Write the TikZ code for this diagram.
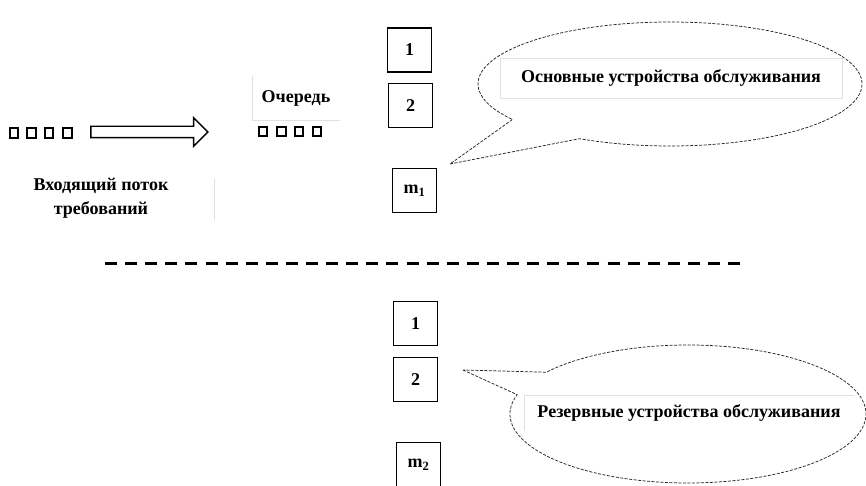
\documentclass[tikz,border=0pt]{standalone}
\usepackage{fontspec}
\setmainfont{Liberation Serif}
\usetikzlibrary{positioning,shapes.arrows,shapes.callouts}

\begin{document}
\begin{tikzpicture}[
  x=1pt,y=-1pt,
  font=\fontsize{18}{24}\selectfont\bfseries,
  server/.style={draw,line width=1.3pt,minimum size=44pt,inner sep=0pt},
  req/.style={draw,line width=1.8pt,minimum width=8.5pt,minimum height=9.5pt,inner sep=0pt},
  bubble/.style={ellipse callout,draw=black!85,line width=0.75pt,
                 dash pattern=on 3pt off 1.5pt,inner sep=0pt},
  faint/.style={draw=black!12,line width=0.6pt},
  flow/.style={single arrow,draw,line width=1.4pt,inner xsep=0pt,inner ysep=5pt,
               single arrow head extend=8.5pt,minimum height=117pt}
]
\useasboundingbox (0,0) rectangle (866,486);

% incoming requests and the queue
\foreach \i/\x in {1/14,2/31.5,3/49,4/67.5}
  \node[req] (in\i) at (\x,133) {};
\node[flow] (stream) at (146.5,132) {};
\foreach \i/\x in {1/263,2/281.5,3/299,4/317}
  \node[req] (q\i) at (\x,131.5) {};

\node[align=center,inner sep=3pt] (inlabel) at (101,198)
  {Входящий поток\\требований};
\draw[faint] ([xshift=43pt,yshift=-4pt]inlabel.north east) -- ([xshift=43pt,yshift=1pt]inlabel.south east);
\node[minimum width=88pt,minimum height=44pt] (queuelabel) at (296,98) {Очередь};
\draw[faint] (queuelabel.north west) |- (queuelabel.south east);

% main servers
\node[server] (s1) at (409.5,50) {1};
\node[server] (s2) at (410.5,105.5) {2};
\node[server] (sm1) at (414.5,190.5) {m\textsubscript{1}};

\coordinate (tipmain) at (450,164);
\node[bubble,minimum width=384pt,minimum height=124pt,callout pointer arc=27,
      callout absolute pointer={(tipmain)}] (mainbubble) at (670,84) {};
\node[faint,draw,minimum width=342pt,minimum height=40pt] (maintext) at (671,78)
  {Основные устройства обслуживания};

% separator
\coordinate (sepL) at (105,263);
\coordinate (sepR) at (748,263);
\draw[line width=3pt,dash pattern=on 12pt off 8.1pt] (sepL) -- (sepR);

% reserve servers
\node[server] (r1) at (415.5,323.5) {1};
\node[server] (r2) at (415.5,379.5) {2};
\node[server] (rm2) at (418.5,464.5) {m\textsubscript{2}};

\coordinate (tipres) at (463,370);
\node[bubble,minimum width=356pt,minimum height=138pt,callout pointer arc=21,
      callout absolute pointer={(tipres)}] (resbubble) at (688,414) {};
\node[minimum width=330pt,minimum height=36pt] (restext) at (689,413)
  {Резервные устройства обслуживания};
\draw[faint] (restext.south west) |- (restext.north east);
\end{tikzpicture}
\end{document}
